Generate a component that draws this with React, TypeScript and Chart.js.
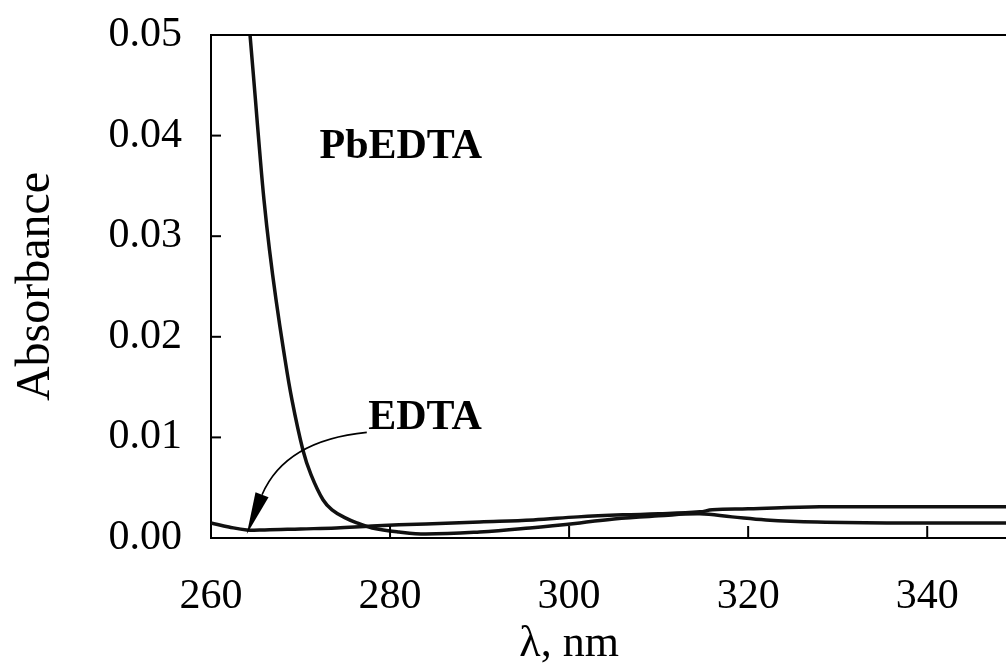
import React, { useEffect, useRef } from "react";
import { Chart, registerables } from "chart.js";

Chart.register(...registerables);

// ---- Data ----
const wavelengthsPb = [264.36, 264.97, 265.42, 265.92, 266.54, 267.26, 268.1, 269.05, 270.28, 271.17, 272.51, 273.52, 275.0, 276.3, 278, 281, 284, 290, 295.6, 301.2, 305, 310, 314.6, 318.2, 322, 327.7, 337, 348.8];
const absorbancePb = [0.05, 0.0435, 0.0386, 0.0336, 0.0286, 0.0237, 0.0187, 0.0137, 0.0087, 0.0063, 0.0038, 0.0028, 0.002, 0.0015, 0.001, 0.0006, 0.0004, 0.0006, 0.001, 0.0015, 0.0019, 0.0022, 0.0024, 0.0021, 0.0018, 0.0016, 0.0015, 0.0015];

const wavelengthsEDTA = [260, 262, 264, 266, 270, 274, 278, 284, 290, 296, 301, 306, 310, 314.6, 316, 320, 328, 337, 348.8];
const absorbanceEDTA = [0.0015, 0.0011, 0.0008, 0.0008, 0.0009, 0.001, 0.0012, 0.0014, 0.0016, 0.0018, 0.0021, 0.0023, 0.0024, 0.0026, 0.0028, 0.0029, 0.0031, 0.0031, 0.0031];

const xMin = 260;
const xMax = 348.8;
const yMin = 0;
const yMax = 0.05;
const xStep = 20;
const yStep = 0.01;

const xTitle = "λ, nm";
const xTitleAt = 300;
const yTitle = "Absorbance";

const labelTexts = ["PbEDTA", "EDTA"];
const labelX = [281.2, 283.9];
const labelY = [0.0389, 0.0119];

// arrow: start, control, head base, tip (data units)
const arrowX = [277.4, 268.3, 265.7, 264.0];
const arrowY = [0.0105, 0.0097, 0.0043, 0.0004];

const FONT = "'Liberation Serif', 'Times New Roman', serif";

const decorPlugin = {
  id: "decor",
  afterDatasetsDraw(chart: any) {
    const { ctx, chartArea, scales } = chart;
    const xs = scales.x;
    const ys = scales.y;
    ctx.save();
    ctx.strokeStyle = "#000";
    ctx.fillStyle = "#000";
    ctx.lineWidth = 2;
    ctx.beginPath();
    ctx.moveTo(chartArea.left, chartArea.top);
    ctx.lineTo(chartArea.right, chartArea.top);
    ctx.stroke();
    xs.ticks.forEach((t: any) => {
      if (t.value <= xMin) return;
      const px = xs.getPixelForValue(t.value);
      ctx.beginPath();
      ctx.moveTo(px, chartArea.bottom);
      ctx.lineTo(px, chartArea.bottom - 12);
      ctx.stroke();
    });
    ys.ticks.forEach((t: any) => {
      if (t.value <= yMin || t.value >= yMax) return;
      const py = ys.getPixelForValue(t.value);
      ctx.beginPath();
      ctx.moveTo(chartArea.left, py);
      ctx.lineTo(chartArea.left + 10, py);
      ctx.stroke();
    });
    ctx.font = `bold 42px ${FONT}`;
    ctx.textAlign = "center";
    ctx.textBaseline = "middle";
    labelTexts.forEach((s, i) => {
      ctx.fillText(s, xs.getPixelForValue(labelX[i]), ys.getPixelForValue(labelY[i]));
    });
    ctx.font = `44px ${FONT}`;
    ctx.textBaseline = "middle";
    ctx.fillText(xTitle, xs.getPixelForValue(xTitleAt), 644);
    const p = arrowX.map((v, i) => [xs.getPixelForValue(v), ys.getPixelForValue(arrowY[i])]);
    ctx.lineWidth = 1.6;
    ctx.beginPath();
    ctx.moveTo(p[0][0], p[0][1]);
    ctx.quadraticCurveTo(p[1][0], p[1][1], p[2][0], p[2][1]);
    ctx.stroke();
    const dx = p[3][0] - p[2][0];
    const dy = p[3][1] - p[2][1];
    const len = Math.hypot(dx, dy);
    const nx = -dy / len;
    const ny = dx / len;
    const hw = 7;
    ctx.beginPath();
    ctx.moveTo(p[3][0], p[3][1]);
    ctx.lineTo(p[2][0] + nx * hw, p[2][1] + ny * hw);
    ctx.lineTo(p[2][0] - nx * hw, p[2][1] - ny * hw);
    ctx.closePath();
    ctx.fill();
    ctx.restore();
  },
};

export default function App() {
  const ref = useRef<HTMLCanvasElement>(null);
  useEffect(() => {
    document.body.style.margin = "0";
    const ctx = ref.current!.getContext("2d")!;
    const chart = new Chart(ctx, {
      type: "line",
      data: {
        datasets: [
          {
            label: "PbEDTA",
            data: wavelengthsPb.map((x, i) => ({ x, y: absorbancePb[i] })),
            borderColor: "#111",
            borderWidth: 3.5,
            pointRadius: 0,
            tension: 0.4,
            fill: false,
          },
          {
            label: "EDTA",
            data: wavelengthsEDTA.map((x, i) => ({ x, y: absorbanceEDTA[i] })),
            borderColor: "#111",
            borderWidth: 3.5,
            pointRadius: 0,
            tension: 0.4,
            fill: false,
          },
        ],
      },
      options: {
        animation: false,
        responsive: false,
        layout: { padding: { top: 35, left: 0, right: 0, bottom: 0 } },
        plugins: { legend: { display: false }, tooltip: { enabled: false } },
        scales: {
          x: {
            type: "linear",
            min: xMin,
            max: xMax,
            grid: { display: false, drawTicks: false },
            border: { display: true, color: "#000", width: 2 },
            ticks: {
              stepSize: xStep,
              includeBounds: false,
              padding: 34,
              color: "#000",
              font: { family: FONT, size: 42 },
              maxRotation: 0,
              callback: (v: any) => String(v),
            },
            afterFit: (s: any) => {
              s.height = 130;
              s.paddingLeft = 0;
              s.paddingRight = 0;
            },
          },
          y: {
            type: "linear",
            min: yMin,
            max: yMax,
            grid: { display: false, drawTicks: false },
            border: { display: true, color: "#000", width: 2 },
            ticks: {
              stepSize: yStep,
              padding: 29,
              color: "#000",
              font: { family: FONT, size: 42 },
              callback: (v: any) => Number(v).toFixed(2),
            },
            title: {
              display: true,
              text: yTitle,
              color: "#000",
              font: { family: FONT, size: 48 },
              padding: { top: 8, bottom: 0 },
            },
            afterFit: (s: any) => {
              s.width = 211;
              s.paddingTop = 0;
              s.paddingBottom = 0;
            },
          },
        },
      },
      plugins: [decorPlugin],
    } as any);
    return () => chart.destroy();
  }, []);
  return (
    <div style={{ width: 1006, height: 668, background: "#fff" }}>
      <canvas ref={ref} width={1006} height={668} />
    </div>
  );
}
